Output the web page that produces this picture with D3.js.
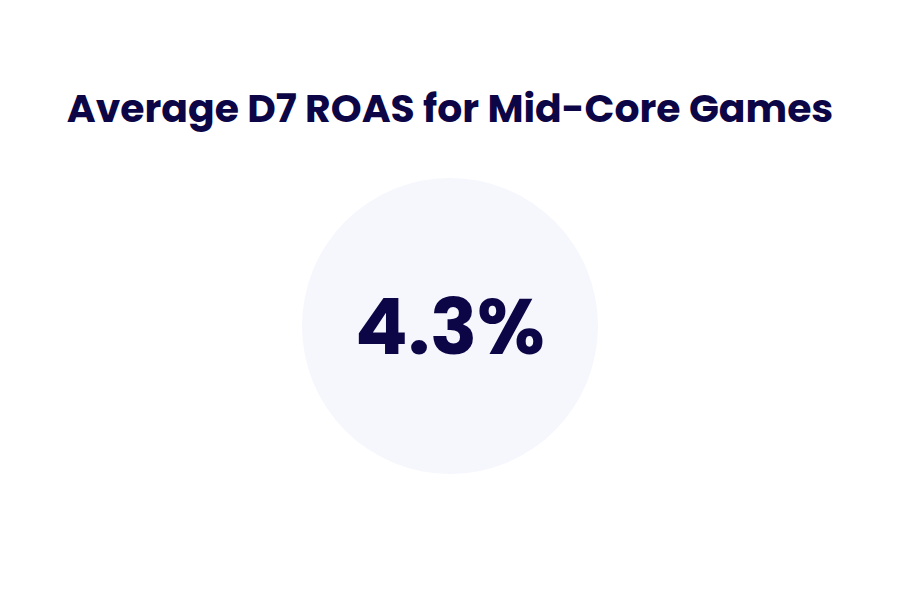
<!DOCTYPE html>
<html>
<head>
<meta charset="utf-8">
<script src="https://cdn.jsdelivr.net/npm/d3@7"></script>
<style>
  html, body { margin: 0; padding: 0; background: #ffffff; }
  svg { display: block; }
</style>
</head>
<body>
<div id="chart"></div>
<script>
const titles = ["Average D7 ROAS for Mid-Core Games"];
const metricLabels = ["Average D7 ROAS"];
const metricValues = [4.3];

const W = 900, H = 600;
const svg = d3.select("#chart").append("svg")
  .attr("width", W).attr("height", H)
  .attr("viewBox", `0 0 ${W} ${H}`);

const ink = "#0C0546";
const font = "Poppins, Inter, 'Open Sans', sans-serif";

svg.append("text")
  .attr("x", 450).attr("y", 122)
  .attr("text-anchor", "middle")
  .attr("font-family", font)
  .attr("font-weight", 700)
  .attr("font-size", 39.3)
  .attr("fill", ink)
  .text(titles[0]);

const fmt = d3.format(".1f");
const g = svg.append("g").selectAll("g")
  .data(metricValues).join("g")
  .attr("transform", "translate(450,326)");

g.append("circle")
  .attr("r", 148)
  .attr("fill", "#F6F7FD");

g.append("text")
  .attr("y", 28)
  .attr("text-anchor", "middle")
  .attr("font-family", font)
  .attr("font-weight", 700)
  .attr("font-size", 78)
  .attr("fill", ink)
  .text(d => fmt(d) + "%");
</script>
</body>
</html>
